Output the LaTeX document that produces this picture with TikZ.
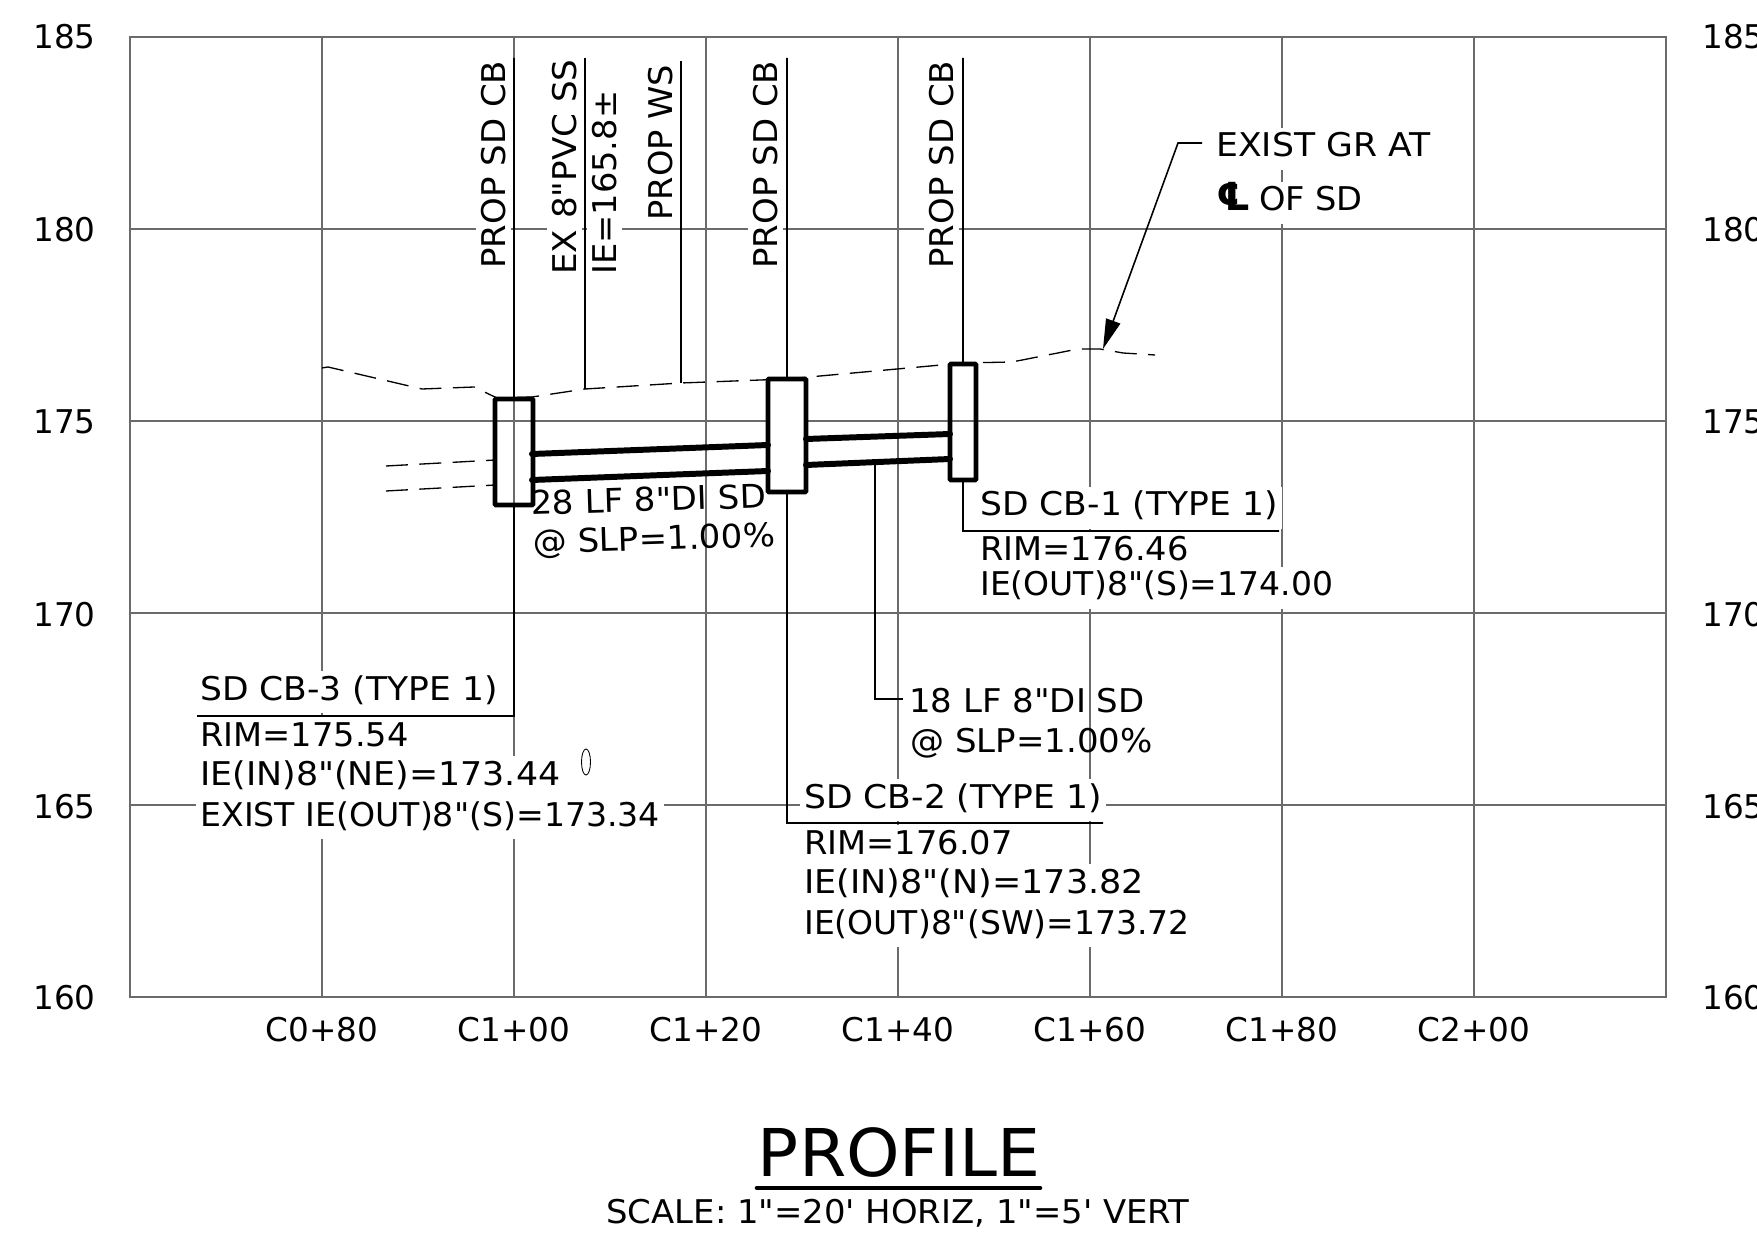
\documentclass[tikz,border=0pt]{standalone}
\usepackage{fontspec}
\setmainfont{DejaVu Sans}
\newfontfamily\drawingfont{DejaVu Sans}
\newcommand{\stretched}[2]{\scalebox{#1}[1]{#2}}
\usetikzlibrary{arrows.meta}
\usetikzlibrary{shapes.geometric}
\tikzset{
    gridline/.style={black!58,line width=0.75pt},
    leader/.style={black,line width=0.9pt},
    cbbox/.style={draw,line width=2.7pt,rounded corners=0.5pt,inner sep=0pt,outer sep=0pt,anchor=north west},
    pipe/.style={line width=3.4pt,line cap=round},
    grade/.style={line width=0.75pt,dash pattern=on 12.5pt off 6.5pt},
    axislabel/.style={font=\drawingfont\fontsize{18.6}{18.6}\selectfont,anchor=base},
    plainnote/.style={font=\drawingfont\fontsize{18.6}{18.6}\selectfont,anchor=base west,inner sep=0pt},
    note/.style={plainnote,fill=white,text height=0.58cm,text depth=0.26cm,inner xsep=0.08cm},
    vnote/.style={plainnote,fill=white,rotate=90,text height=0.58cm,text depth=0.12cm,inner xsep=0.04cm},
}
\begin{document}
\begin{tikzpicture}[x=0.02cm,y=-0.02cm]
    \useasboundingbox (0,0) rectangle (1757,1239);
    \clip (0,0) rectangle (1757,1239);
    \foreach \gx in {322,514,706,898,1090,1282,1474}
        \draw[gridline] (\gx,37) -- (\gx,997);
    \foreach \gy in {229,421,613,805}
        \draw[gridline] (130,\gy) -- (1666,\gy);
    \draw[gridline] (130,37) rectangle (1666,997);
    \foreach \gy/\val in {49/185,242/180,434/175,626/170,818/165,1009/160} {
        \node[axislabel,anchor=base west,inner sep=0pt] (left\val) at (33,\gy) {\val};
        \node[axislabel,anchor=base west,inner sep=0pt] (right\val) at (1702,\gy) {\val};
    }
    \foreach \gx/\val in {322/C0+80,514/C1+00,706/C1+20,898/C1+40,1090/C1+60,1282/C1+80,1474/C2+00}
        \node[axislabel] (sta\gx) at (\gx,1041) {\val};

    \node[vnote] (labela) at (505,271) {\stretched{1.04}{PROP SD CB}};
    \node[vnote] (labelb) at (576,277) {\stretched{1.045}{EX 8"PVC SS}};
    \node[vnote] (labelc) at (616,277) {\stretched{1.03}{IE=165.8±}};
    \node[vnote] (labeld) at (672,223) {\stretched{1.03}{PROP WS}};
    \node[vnote] (labele) at (777,271) {\stretched{1.04}{PROP SD CB}};
    \node[vnote] (labelf) at (953,271) {\stretched{1.04}{PROP SD CB}};

    \node[note] (cbthreea) at (196,700) {\stretched{1.056}{SD CB-3 (TYPE 1)}};
    \node[note] (cbthreeb) at (196,746) {\stretched{1.03}{RIM=175.54}};
    \node[note] (cbthreec) at (196,785) {\stretched{1.065}{IE(IN)8"(NE)=173.44}};
    \node[note] (cbthreed) at (196,826) {\stretched{1.015}{EXIST IE(OUT)8"(S)=173.34}};
    \node[note] (cbtwoa) at (800,808) {\stretched{1.056}{SD CB-2 (TYPE 1)}};
    \node[note] (cbtwob) at (800,854) {\stretched{1.03}{RIM=176.07}};
    \node[note] (cbtwoc) at (800,893) {\stretched{1.07}{IE(IN)8"(N)=173.82}};
    \node[note] (cbtwod) at (800,934) {\stretched{1.01}{IE(OUT)8"(SW)=173.72}};
    \node[note] (cbonea) at (976,516) {\stretched{1.056}{SD CB-1 (TYPE 1)}};
    \node[note] (cboneb) at (976,561) {\stretched{1.03}{RIM=176.46}};
    \node[note] (cbonec) at (976,596) {\stretched{1.01}{IE(OUT)8"(S)=174.00}};
    \node[plainnote] (lfa) at (909,712) {\stretched{1.04}{18 LF 8"DI SD}};
    \node[plainnote] (slpa) at (910,752) {\stretched{1.04}{@ SLP=1.00\%}};
    \node[plainnote,rotate=1.8] (lfb) at (531,515) {\stretched{1.04}{28 LF 8"DI SD}};
    \node[plainnote,rotate=1.8] (slpb) at (533,554) {\stretched{1.04}{@ SLP=1.00\%}};
    \node[note] (existgr) at (1212,157) {\stretched{1.06}{EXIST GR AT}};
    \node[note] (ofsd) at (1212,211) {{\fontspec{DejaVu Sans Bold}\fontsize{22}{22}\selectfont ℄}\hspace{0.16cm}\stretched{1.03}{OF SD}};

    \node[plainnote,font=\drawingfont\fontsize{37.5}{37.5}\selectfont,anchor=base] (title) at (899,1176) {\stretched{1.033}{PROFILE}};
    \node[plainnote,anchor=base] (scale) at (898,1223) {\stretched{1.036}{SCALE: 1"=20' HORIZ, 1"=5' VERT}};
    \coordinate (titleleft) at (757,1188);
    \coordinate (titleright) at (1040,1188);
    \draw[line width=2.6pt,line cap=round] (titleleft) -- (titleright);

    \draw[grade] (322,368) -- (328,367) -- (422,389) -- (474,387) -- (497,398) -- (532,397)
        -- (585,389) -- (681,383) -- (787,379) -- (963,363) -- (1012,362) -- (1078,349)
        -- (1100,349) -- (1123,353) -- (1155,355);
    \draw[grade] (386,466) -- (495,460);
    \draw[grade] (386,491) -- (495,485);

    \node[cbbox,minimum width=0.76cm,minimum height=2.12cm] (cbthree) at (495,399) {};
    \node[cbbox,fill=white,minimum width=0.76cm,minimum height=2.26cm] (cbtwo) at (768,379) {};
    \node[cbbox,minimum width=0.52cm,minimum height=2.32cm] (cbone) at (950,364) {};

    \coordinate (pipeatop) at (532,454);
    \coordinate (pipeabot) at (532,480);
    \coordinate (pipebtop) at (768,445);
    \coordinate (pipebbot) at (768,471);
    \coordinate (pipectop) at (806,439);
    \coordinate (pipecbot) at (806,465);
    \coordinate (pipedtop) at (950,434);
    \coordinate (pipedbot) at (950,459);
    \draw[pipe] (pipeatop) -- (pipebtop);
    \draw[pipe] (pipeabot) -- (pipebbot);
    \draw[pipe] (pipectop) -- (pipedtop);
    \draw[pipe] (pipecbot) -- (pipedbot);

    \coordinate (topa) at (514,58);
    \coordinate (topb) at (585,58);
    \coordinate (grb) at (585,389);
    \coordinate (topd) at (681,61);
    \coordinate (grd) at (681,383);
    \coordinate (tope) at (787,58);
    \coordinate (topf) at (963,58);
    \coordinate (ulthreel) at (197,716);
    \coordinate (ulthreer) at (514,716);
    \coordinate (ultwol) at (787,823);
    \coordinate (ultwor) at (1103,823);
    \coordinate (ulonel) at (963,531);
    \coordinate (uloner) at (1279,531);
    \draw[leader] (topa) -- (cbthree.north);
    \draw[leader] (topb) -- (grb);
    \draw[leader] (topd) -- (grd);
    \draw[leader] (tope) -- (cbtwo.north);
    \draw[leader] (topf) -- (cbone.north);
    \draw[leader] (cbthree.south) -- (ulthreer) -- (ulthreel);
    \draw[leader] (cbtwo.south) -- (ultwol) -- (ultwor);
    \draw[leader] (cbone.south) -- (ulonel) -- (uloner);

    \coordinate (lfpipe) at (875,463);
    \coordinate (lfbend) at (875,699);
    \coordinate (lfend) at (903,699);
    \draw[leader,line width=1.5pt] (lfpipe) -- (lfbend) -- (lfend);

    \coordinate (grstart) at (1202,143);
    \coordinate (grbend) at (1178,143);
    \coordinate (grtip) at (1103,349);
    \draw[leader,-{Triangle[length=17pt,width=8.5pt]}] (grstart) -- (grbend) -- (grtip);

    \node[draw,ellipse,line width=0.5pt,inner sep=0pt,minimum width=0.18cm,minimum height=0.52cm] (oval) at (586,762) {};
\end{tikzpicture}
\end{document}
